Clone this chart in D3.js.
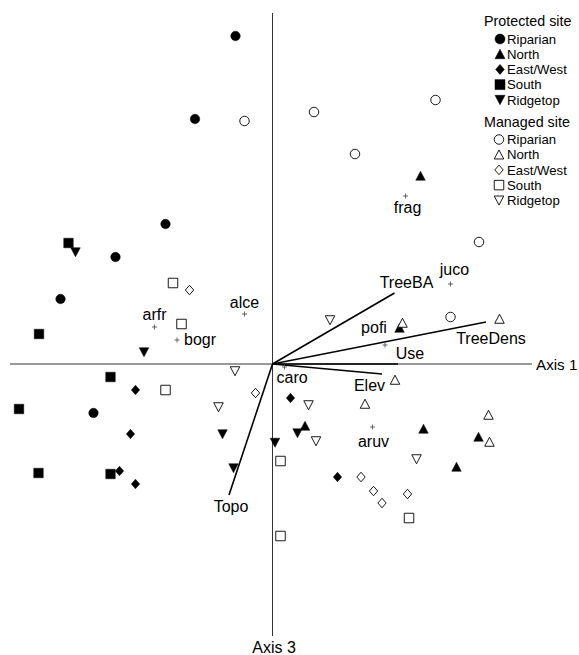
<!DOCTYPE html>
<html><head><meta charset="utf-8">
<script src="https://cdn.jsdelivr.net/npm/d3@7"></script>
<style>body{margin:0;background:#fff}svg{display:block;font-family:"Liberation Sans",Arial,Helvetica,sans-serif}</style>
</head><body><svg id="chart" width="579" height="655"></svg>
<script>
// ---- data (ordination scores: [Axis 1, Axis 3]) ----
const siteGroups = ["Protected site", "Managed site"];
const aspects = ["Riparian", "North", "East/West", "South", "Ridgetop"];

const protectedRiparian = [[-0.37,3.28],[-0.775,2.45],[-1.07,1.40],[-1.57,1.07],[-2.12,0.65],[-1.79,-0.49]];
const protectedNorth    = [[1.48,1.88],[1.27,0.36],[0.325,-0.62],[1.51,-0.65],[2.06,-0.73],[1.84,-1.03]];
const protectedEastWest = [[-1.37,-0.26],[-1.42,-0.70],[-1.53,-1.07],[-1.37,-1.20],[0.18,-0.34],[0.65,-1.13]];
const protectedSouth    = [[-2.04,1.21],[-2.335,0.30],[-1.62,-0.13],[-2.535,-0.45],[-2.34,-1.09],[-1.62,-1.10]];
const protectedRidgetop = [[-1.97,1.12],[-1.285,0.12],[-0.50,-0.70],[-0.39,-1.04],[0.025,-0.785],[0.25,-0.69]];

const managedRiparian = [[-0.28,2.43],[0.415,2.52],[0.825,2.10],[1.63,2.64],[2.065,1.22],[1.78,0.47]];
const managedNorth    = [[1.30,0.41],[2.27,0.45],[1.225,-0.16],[0.925,-0.40],[2.16,-0.51],[2.17,-0.78]];
const managedEastWest = [[-0.83,0.74],[-0.17,-0.29],[0.885,-1.13],[1.01,-1.27],[1.095,-1.39],[1.35,-1.30]];
const managedSouth    = [[-0.995,0.81],[-0.91,0.40],[-1.07,-0.26],[0.08,-0.97],[0.08,-1.72],[1.365,-1.54]];
const managedRidgetop = [[-0.375,-0.07],[-0.54,-0.43],[0.575,0.44],[0.36,-0.41],[0.435,-0.77],[1.44,-0.95]];

const speciesNames = ["frag","juco","alce","arfr","bogr","pofi","caro","aruv"];
const speciesX = [1.33, 1.78, -0.28, -1.18, -0.955, 1.125, 0.12, 1.00];
const speciesY = [1.68, 0.80, 0.50, 0.37, 0.24, 0.19, -0.03, -0.63];

const vectorNames = ["TreeBA","TreeDens","Use","Elev","Topo"];
const vectorX = [1.22, 2.135, 1.255, 1.095, -0.435];
const vectorY = [0.71, 0.42, 0.00, -0.10, -1.31];

const axisLabels = ["Axis 1", "Axis 3"];

// ---- layout (label placement, not data) ----
const speciesLabelLayout = {
  frag:{dx:2,dy:17,anchor:"middle"}, juco:{dx:4,dy:-9,anchor:"middle"},
  alce:{dx:0,dy:-6,anchor:"middle"}, arfr:{dx:0,dy:-7,anchor:"middle"},
  bogr:{dx:7,dy:5,anchor:"start"},  pofi:{dx:-11,dy:-12,anchor:"middle"},
  caro:{dx:-8,dy:16,anchor:"start"}, aruv:{dx:1,dy:20,anchor:"middle"}
};
const vectorLabelLayout = {
  TreeBA:{dx:12,dy:-5}, TreeDens:{dx:5,dy:21.5}, Use:{dx:12,dy:-5},
  Elev:{dx:-12.5,dy:16.5}, Topo:{dx:2,dy:17}
};

const svg = d3.select("#chart");
const x = d3.scaleLinear().domain([-2.625, 2.595]).range([10, 532]);
const y = d3.scaleLinear().domain([-2.72, 3.51]).range([636, 13]);

// custom symbol shapes (size = width in px)
const shapes = {
  circle:{draw(c,s){const r=s/2;c.moveTo(r,0);c.arc(0,0,r,0,2*Math.PI);}},
  triUp:{draw(c,s){const w=s,h=s*0.9;c.moveTo(0,-h/2-0.5);c.lineTo(w/2,h/2);c.lineTo(-w/2,h/2);c.closePath();}},
  diamond:{draw(c,s){const w=s*0.88,h=s;c.moveTo(0,-h/2);c.lineTo(w/2,0);c.lineTo(0,h/2);c.lineTo(-w/2,0);c.closePath();}},
  square:{draw(c,s){const a=s/2;c.rect(-a,-a,s,s);}},
  triDown:{draw(c,s){const w=s,h=s*0.9;c.moveTo(0,h/2+0.5);c.lineTo(w/2,-h/2);c.lineTo(-w/2,-h/2);c.closePath();}}
};
const shapeOrder = ["circle","triUp","diamond","square","triDown"];

const groups = [
  {filled:true, sets:[protectedRiparian,protectedNorth,protectedEastWest,protectedSouth,protectedRidgetop]},
  {filled:false, sets:[managedRiparian,managedNorth,managedEastWest,managedSouth,managedRidgetop]}
];

// axes through origin
const axisG = svg.append("g");
axisG.append("line").attr("x1",x(0)).attr("x2",x(0)).attr("y1",y(3.51)).attr("y2",y(-2.72))
  .attr("stroke","#333").attr("stroke-width",1);
axisG.append("line").attr("x1",x(-2.625)).attr("x2",x(2.595)).attr("y1",y(0)).attr("y2",y(0))
  .attr("stroke","#333").attr("stroke-width",1);
axisG.append("text").attr("x",x(2.595)+4).attr("y",y(0)+5.5).attr("font-size",15.2).text(axisLabels[0]);
axisG.append("text").attr("x",x(0)+1.5).attr("y",653).attr("text-anchor","middle").attr("font-size",16).text(axisLabels[1]);

// vectors
const vecData = vectorNames.map((n,i)=>({name:n,x:vectorX[i],y:vectorY[i]}));
const vg = svg.append("g");
vg.selectAll("line").data(vecData).join("line")
  .attr("x1",x(0)).attr("y1",y(0)).attr("x2",d=>x(d.x)).attr("y2",d=>y(d.y))
  .attr("stroke","#000").attr("stroke-width",1.6);
vg.selectAll("text").data(vecData).join("text")
  .attr("x",d=>x(d.x)+vectorLabelLayout[d.name].dx).attr("y",d=>y(d.y)+vectorLabelLayout[d.name].dy)
  .attr("text-anchor","middle").attr("font-size",16).text(d=>d.name);

// species
const spData = speciesNames.map((n,i)=>({name:n,x:speciesX[i],y:speciesY[i]}));
const sg = svg.append("g");
sg.selectAll("path").data(spData).join("path")
  .attr("d",d=>{const px=x(d.x),py=y(d.y);return `M${px-2.5},${py}H${px+2.5}M${px},${py-2.5}V${py+2.5}`;})
  .attr("stroke","#555").attr("stroke-width",0.9);
sg.selectAll("text").data(spData).join("text")
  .attr("x",d=>x(d.x)+speciesLabelLayout[d.name].dx).attr("y",d=>y(d.y)+speciesLabelLayout[d.name].dy)
  .attr("text-anchor",d=>speciesLabelLayout[d.name].anchor).attr("font-size",16).text(d=>d.name);

// sample points
const pg = svg.append("g");
groups.forEach(g=>{
  g.sets.forEach((set,k)=>{
    const sym = d3.symbol().type(shapes[shapeOrder[k]]).size(9.5);
    pg.append("g").selectAll("path").data(set).join("path")
      .attr("transform",d=>`translate(${x(d[0])},${y(d[1])})`)
      .attr("d",sym)
      .attr("fill",g.filled?"#000":"#fff")
      .attr("stroke","#000").attr("stroke-width",g.filled?0.5:0.9);
  });
});

// legend
const lg = svg.append("g");
const headerY = [21, 121.5];
siteGroups.forEach((name,gi)=>{
  lg.append("text").attr("x",484).attr("y",headerY[gi]+5).attr("font-size",14.3).text(name);
  aspects.forEach((a,k)=>{
    const cy = headerY[gi]+18+k*15.2;
    const sym = d3.symbol().type(shapes[shapeOrder[k]]).size(gi===0?10:9.5);
    lg.append("path").attr("transform",`translate(${gi===0?500:499},${cy})`).attr("d",sym)
      .attr("fill",gi===0?"#000":"#fff").attr("stroke","#000").attr("stroke-width",gi===0?0.5:0.9);
    lg.append("text").attr("x",507).attr("y",cy+4.7).attr("font-size",13.2).text(a);
  });
});
</script></body></html>
